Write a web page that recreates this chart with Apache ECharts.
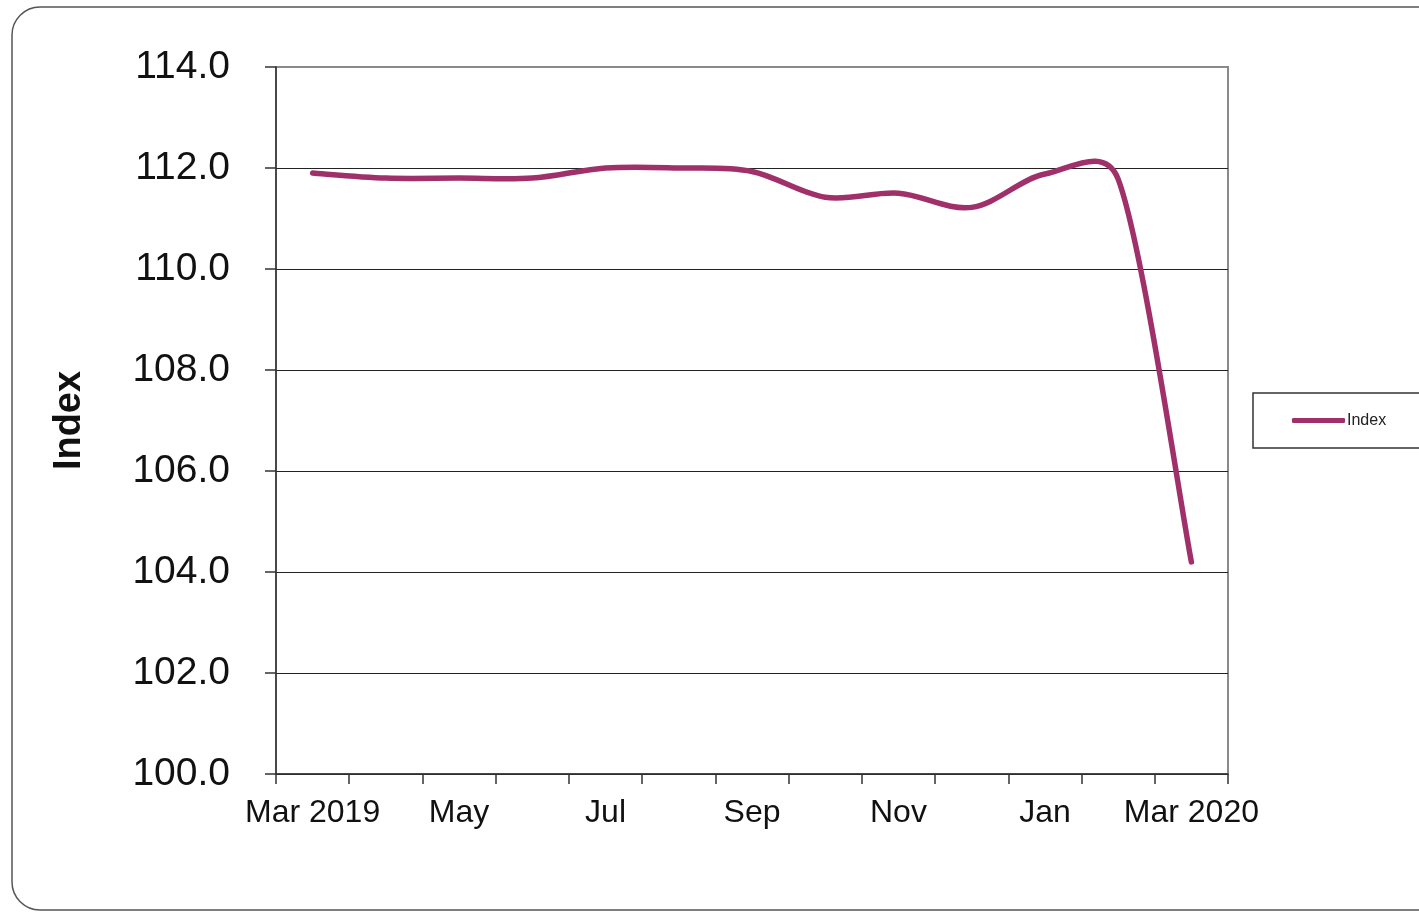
<!DOCTYPE html>
<html>
<head>
<meta charset="utf-8">
<title>Index</title>
<script src="https://cdn.jsdelivr.net/npm/echarts@6/dist/echarts.min.js"></script>
<style>
  html, body { margin: 0; padding: 0; background: #ffffff; }
  #chart { width: 1419px; height: 912px; }
</style>
</head>
<body>
<div id="chart"></div>
<script>
// Monthly index, March 2019 to March 2020
const months = ['Mar 2019', 'Apr', 'May', 'Jun', 'Jul', 'Aug', 'Sep', 'Oct', 'Nov', 'Dec', 'Jan', 'Feb', 'Mar 2020'];
const indexValues = [111.9, 111.8, 111.8, 111.8, 112.0, 112.0, 111.93, 111.42, 111.5, 111.22, 111.88, 111.78, 104.2];
const seriesName = 'Index';
const yMin = 100, yMax = 114, yStep = 2;

const FONT = '"Liberation Sans", Arial, sans-serif';
const LINE_COLOR = '#a0306a';
const TENSION = 1 / 6;

// Tangent-based control point, shortened so it never reaches past half the segment
function controlPoint(base, from, to, segLen, sign) {
  let dx = (to[0] - from[0]) * TENSION;
  let dy = (to[1] - from[1]) * TENSION;
  const len = Math.hypot(dx, dy);
  const limit = segLen / 2;
  if (len > limit && len > 0) {
    dx *= limit / len;
    dy *= limit / len;
  }
  return [base[0] + sign * dx, base[1] + sign * dy];
}

// The first data item draws the whole smoothed line as one path through every point
function renderLine(params, api) {
  if (params.dataIndex !== 0) return null;
  const n = indexValues.length;
  const pts = indexValues.map((v, i) => api.coord([i, v]));
  const at = k => pts[Math.max(0, Math.min(n - 1, k))];
  let d = 'M' + pts[0][0] + ' ' + pts[0][1];
  for (let i = 0; i < n - 1; i++) {
    const p0 = at(i - 1), p1 = at(i), p2 = at(i + 1), p3 = at(i + 2);
    const segLen = Math.hypot(p2[0] - p1[0], p2[1] - p1[1]);
    const c1 = controlPoint(p1, p0, p2, segLen, 1);
    const c2 = controlPoint(p2, p1, p3, segLen, -1);
    d += ' C' + c1[0] + ' ' + c1[1] + ' ' + c2[0] + ' ' + c2[1] + ' ' + p2[0] + ' ' + p2[1];
  }
  return {
    type: 'path',
    shape: { pathData: d },
    style: { stroke: LINE_COLOR, lineWidth: 5.5, fill: null, lineCap: 'round', lineJoin: 'round' },
    silent: true
  };
}

const chart = echarts.init(document.getElementById('chart'), null, { renderer: 'canvas' });

chart.setOption({
  backgroundColor: '#ffffff',
  animation: false,
  graphic: [{
    type: 'rect',
    z: -10,
    shape: { x: 12, y: 7, width: 1440, height: 903, r: 28 },
    style: { fill: '#ffffff', stroke: '#555555', lineWidth: 1.5 }
  }],
  grid: {
    left: 276, top: 67, right: 191, bottom: 138,
    show: true, borderColor: '#8a8a8a', borderWidth: 2, backgroundColor: 'transparent'
  },
  legend: {
    left: 1253, top: 393,
    padding: [18, 90, 18, 39],
    borderColor: '#333333', borderWidth: 1.5,
    itemWidth: 53, itemHeight: 5, itemGap: 5,
    icon: 'roundRect',
    data: [seriesName],
    textStyle: { fontFamily: FONT, fontSize: 16, color: '#222222', lineHeight: 19, padding: [0, 0, 0, -3] }
  },
  xAxis: {
    type: 'category',
    data: months,
    boundaryGap: true,
    axisLine: { show: true, lineStyle: { color: '#333333', width: 1.5 } },
    axisTick: { show: true, interval: 0, length: 10, lineStyle: { color: '#333333', width: 1.5 } },
    axisLabel: {
      interval: 1, margin: 23,
      fontFamily: FONT, fontSize: 32, color: '#111111'
    },
    splitLine: { show: false }
  },
  yAxis: {
    type: 'value',
    min: yMin, max: yMax, interval: yStep,
    name: 'Index',
    nameLocation: 'middle',
    nameRotate: 90,
    nameGap: 187,
    nameTextStyle: { fontFamily: FONT, fontSize: 38, fontWeight: 'bold', color: '#111111' },
    axisLine: { show: true, lineStyle: { color: '#333333', width: 1.5 } },
    axisTick: { show: true, length: 11, lineStyle: { color: '#333333', width: 1.5 } },
    axisLabel: {
      margin: 46,
      fontFamily: FONT, fontSize: 39, color: '#111111',
      formatter: v => v.toFixed(1)
    },
    splitLine: { show: true, showMaxLine: false, lineStyle: { color: '#222222', width: 1 } }
  },
  series: [{
    name: seriesName,
    type: 'custom',
    data: indexValues.map((v, i) => [i, v]),
    encode: { x: 0, y: 1 },
    itemStyle: { color: LINE_COLOR },
    renderItem: renderLine
  }]
});
</script>
</body>
</html>
